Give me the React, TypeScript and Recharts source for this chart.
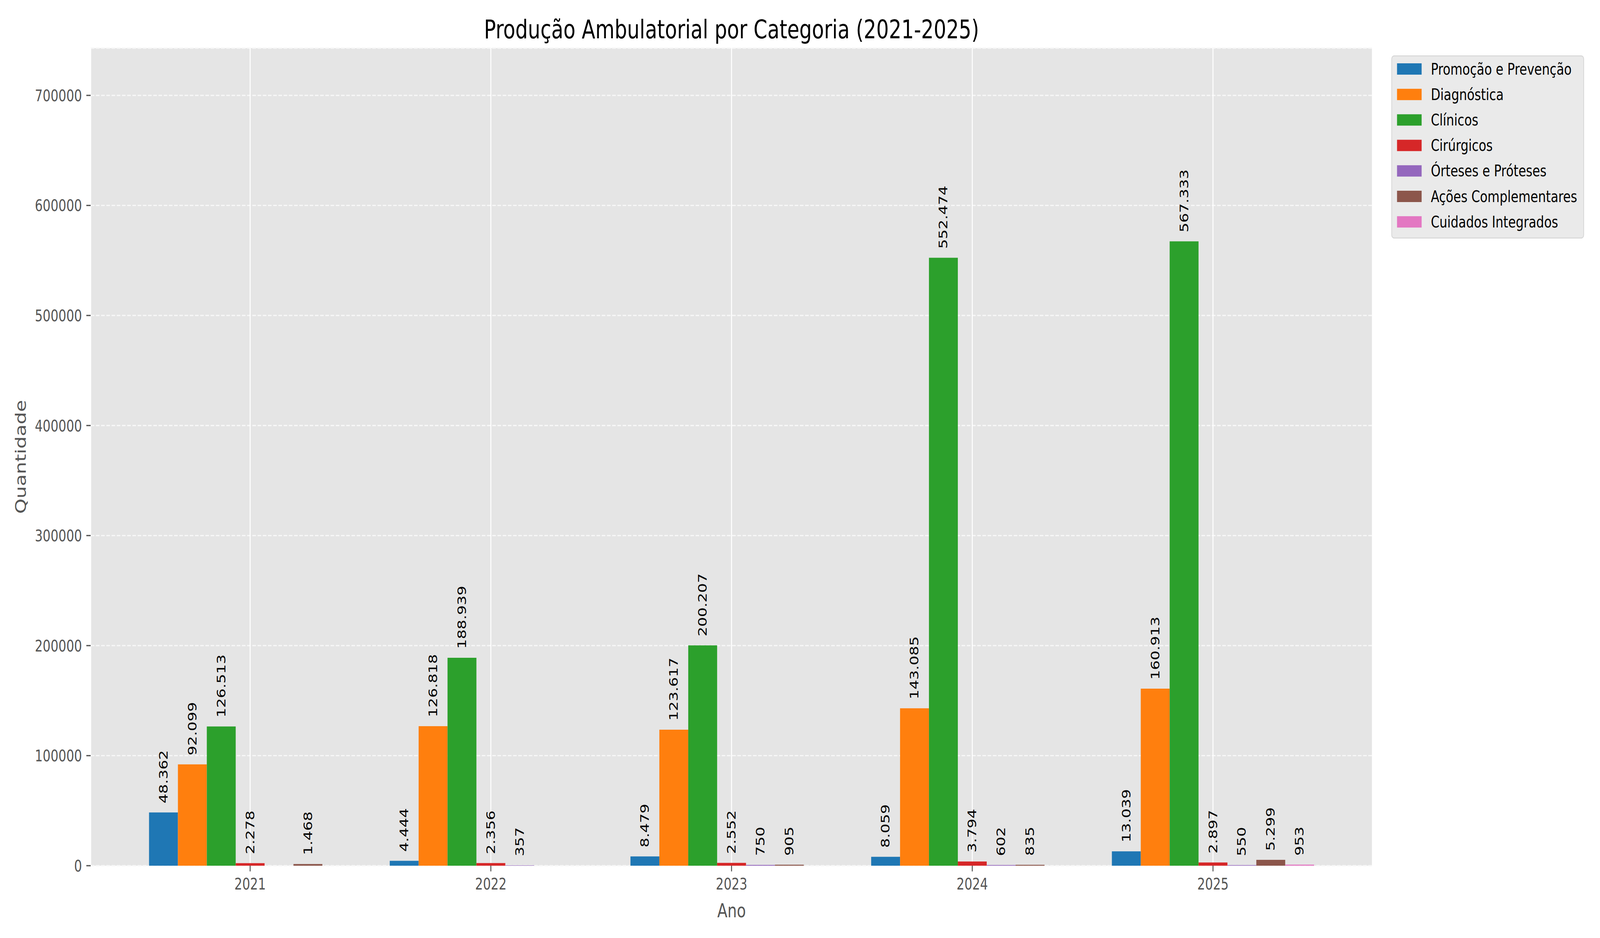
import { BarChart, Bar, XAxis, YAxis, CartesianGrid, LabelList } from 'recharts';

const years = ['2021', '2022', '2023', '2024', '2025'];
const categoryNames = [
  'Promoção e Prevenção',
  'Diagnóstica',
  'Clínicos',
  'Cirúrgicos',
  'Órteses e Próteses',
  'Ações Complementares',
  'Cuidados Integrados',
];
const promocao = [48362, 4444, 8479, 8059, 13039];
const diagnostica = [92099, 126818, 123617, 143085, 160913];
const clinicos = [126513, 188939, 200207, 552474, 567333];
const cirurgicos = [2278, 2356, 2552, 3794, 2897];
const orteses = [0, 357, 750, 602, 550];
const acoes = [1468, 0, 905, 835, 5299];
const cuidados = [0, 0, 0, 0, 953];
const yTicks = [0, 100000, 200000, 300000, 400000, 500000, 600000, 700000];

const seriesValues = [promocao, diagnostica, clinicos, cirurgicos, orteses, acoes, cuidados];
const colors = ['#1f77b4', '#ff7f0e', '#2ca02c', '#d62728', '#9467bd', '#8c564b', '#e377c2'];

const chartData = years.map((year, i) => {
  const row: any = { year };
  seriesValues.forEach((vals, j) => {
    row['s' + j] = vals[i];
  });
  return row;
});

const FONT = 'DejaVu Sans';
const W = 5400;
const H = 2400;
const fmt = (v: number) => String(v).replace(/\B(?=(\d{3})+(?!\d))/g, '.');

const renderValueLabel = (props: any) => {
  const { x, y, width, value } = props;
  if (!value || value <= 0) return null;
  const cx = x + width / 2;
  const y0 = y - 23;
  return (
    <text
      x={cx}
      y={y0}
      transform={`rotate(-90 ${cx} ${y0})`}
      textAnchor="start"
      dominantBaseline="central"
      fontSize={39}
      fontFamily={FONT}
      fill="#000000"
    >
      {fmt(value)}
    </text>
  );
};

export default function App() {
  // the layout is drawn for 5400x2400 and stretched to whatever window we actually get
  const vw = typeof window !== 'undefined' && window.innerWidth ? window.innerWidth : W;
  const vh = typeof window !== 'undefined' && window.innerHeight ? window.innerHeight : H;
  const sx = vw / W;
  const sy = vh / H;

  return (
    <div style={{ position: 'absolute', left: 0, top: 0, width: vw, height: vh, overflow: 'hidden', background: '#ffffff' }}>
      <div style={{ position: 'relative', width: W, height: H, transform: `scale(${sx}, ${sy})`, transformOrigin: '0 0' }}>
        <BarChart
          width={W}
          height={H}
          data={chartData}
          margin={{ top: 123, right: 768, bottom: 0, left: 0 }}
          barGap={0}
          barSize={97.5}
        >
          <CartesianGrid
            vertical={false}
            stroke="#F7F7F7"
            strokeWidth={3.3}
            strokeDasharray="12.3 5.3"
            fill="#E5E5E5"
            fillOpacity={1}
          />
          <CartesianGrid horizontal={false} stroke="#FFFFFF" strokeWidth={3.3} />
          <XAxis
            dataKey="year"
            height={185}
            padding={{ left: 132, right: 132 }}
            axisLine={false}
            tickSize={14.6}
            tickMargin={17}
            tickLine={{ stroke: '#555555', strokeWidth: 3.3 }}
            tick={{ fill: '#555555', fontSize: 41.7, fontFamily: FONT }}
          />
          <YAxis
            type="number"
            width={306}
            domain={[0, 743000]}
            ticks={yTicks}
            interval={0}
            axisLine={false}
            tickSize={14.6}
            tickMargin={14.6}
            tickLine={{ stroke: '#555555', strokeWidth: 3.3 }}
            tick={{ fill: '#555555', fontSize: 41.7, fontFamily: FONT }}
          />
          {categoryNames.map((name, j) => (
            <Bar key={name} dataKey={'s' + j} name={name} fill={colors[j]} isAnimationActive={false}>
              <LabelList dataKey={'s' + j} content={renderValueLabel} />
            </Bar>
          ))}
        </BarChart>
        <svg width={W} height={H} style={{ position: 'absolute', left: 0, top: 0, pointerEvents: 'none' }}>
          <text x={2469} y={98} textAnchor="middle" fontSize={66.7} fontFamily={FONT} fill="#000000">
            Produção Ambulatorial por Categoria (2021-2025)
          </text>
          <text x={2469} y={2347} textAnchor="middle" fontSize={50} fontFamily={FONT} fill="#555555">
            Ano
          </text>
          <text
            x={69}
            y={1169}
            transform="rotate(-90 69 1169)"
            textAnchor="middle"
            dominantBaseline="central"
            fontSize={50}
            fontFamily={FONT}
            fill="#555555"
          >
            Quantidade
          </text>
          <rect x={4697} y={143} width={648} height={466} rx={8} ry={8} fill="#EAEAEA" stroke="#D6D6D6" strokeWidth={2.5} />
          {categoryNames.map((name, j) => {
            const top = 162 + j * 65.2;
            return (
              <g key={name}>
                <rect x={4715} y={top} width={83} height={29} fill={colors[j]} />
                <text x={4829} y={top + 14.6} dominantBaseline="central" fontSize={41.7} fontFamily={FONT} fill="#000000">
                  {name}
                </text>
              </g>
            );
          })}
        </svg>
      </div>
    </div>
  );
}
